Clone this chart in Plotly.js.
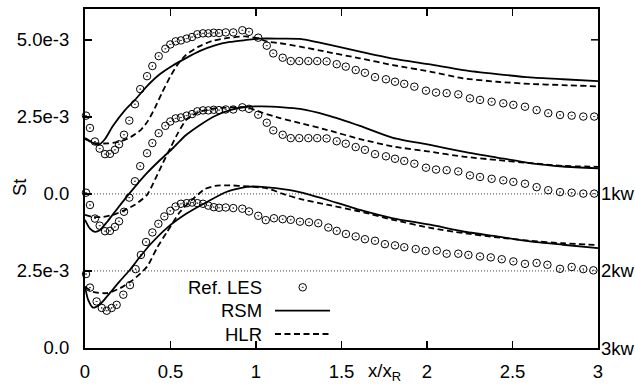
<!DOCTYPE html>
<html>
<head>
<meta charset="utf-8">
<script src="https://cdn.plot.ly/plotly-3.0.1.min.js"></script>
<style>
  html, body { margin: 0; padding: 0; background: #fff; }
  #chart { width: 635px; height: 385px; }
</style>
</head>
<body>
<div id="chart"></div>
<script>
// ---- data (St in units of 1e-3; each profile drawn with a vertical offset) ----
const xTickVals = [0, 0.5, 1, 1.5, 2, 2.5, 3];
const xTickText = ['0', '0.5', '1', '1.5', '2', '2.5', '3'];
const yTickVals = [0, 2.5, 5, 7.5, 10];
const yTickText = ['0.0', '2.5e-3', '0.0', '2.5e-3', '5.0e-3'];
const rightLabelVals = [5, 2.5, 0];
const rightLabelText = ['1kw', '2kw', '3kw'];
const profileOffsets = [5, 2.5, 0];   // top, middle, bottom
const legendNames = ['Ref. LES', 'RSM', 'HLR'];

// Reference LES (top and middle profiles)
const lesX_A = [0.006,0.029,0.058,0.086,0.117,0.146,0.175,0.199,0.228,0.259,0.292,0.323,0.363,0.394,0.431,0.470,0.499,0.530,0.561,0.595,0.626,0.657,0.690,0.721,0.753,0.784,0.823,0.867,0.920,0.959,1.013,1.063,1.101,1.156,1.203,1.253,1.306,1.358,1.413,1.472,1.525,1.583,1.637,1.696,1.760,1.813,1.867,1.926,1.994,2.053,2.115,2.183,2.251,2.310,2.378,2.446,2.505,2.573,2.641,2.709,2.778,2.846,2.914,2.978];
const lesY_A = [2.54,2.14,1.70,1.47,1.29,1.30,1.43,1.61,1.92,2.38,2.91,3.40,3.82,4.15,4.47,4.71,4.85,4.95,4.98,5.04,5.09,5.18,5.21,5.21,5.23,5.22,5.24,5.24,5.31,5.26,5.07,4.81,4.56,4.42,4.31,4.31,4.31,4.31,4.30,4.21,4.13,4.02,3.93,3.79,3.72,3.64,3.57,3.48,3.35,3.29,3.27,3.23,3.10,3.05,2.99,2.94,2.89,2.83,2.72,2.62,2.56,2.54,2.51,2.51];
// Reference LES (bottom profile)
const lesX_B = [0.006,0.029,0.068,0.098,0.127,0.156,0.185,0.224,0.263,0.296,0.327,0.357,0.394,0.429,0.464,0.499,0.530,0.561,0.595,0.626,0.657,0.690,0.721,0.753,0.784,0.823,0.867,0.920,0.959,1.013,1.057,1.105,1.156,1.203,1.257,1.310,1.364,1.423,1.472,1.526,1.583,1.637,1.696,1.754,1.813,1.867,1.934,1.992,2.057,2.115,2.183,2.242,2.310,2.373,2.437,2.505,2.573,2.641,2.704,2.778,2.846,2.914,2.973];
const lesY_B = [2.40,1.96,1.51,1.30,1.21,1.30,1.40,1.73,2.04,2.56,3.02,3.44,3.75,4.03,4.27,4.45,4.59,4.68,4.70,4.72,4.70,4.68,4.62,4.57,4.55,4.56,4.54,4.52,4.43,4.29,4.15,4.21,4.18,4.16,4.10,4.08,4.05,3.91,3.80,3.70,3.62,3.53,3.48,3.37,3.33,3.27,3.21,3.15,3.16,3.06,3.06,3.02,2.97,2.94,2.88,2.81,2.73,2.76,2.70,2.57,2.63,2.56,2.52];

// RSM
const rsmX_top = [0,0.041,0.079,0.117,0.164,0.234,0.292,0.363,0.439,0.509,0.585,0.673,0.760,0.848,0.936,1.023,1.140,1.257,1.413,1.608,1.801,2.018,2.211,2.409,2.602,2.795,3.0];
const rsmY_top = [1.81,1.67,1.59,1.78,2.21,2.72,3.05,3.50,3.89,4.15,4.39,4.64,4.82,4.93,4.99,5.04,5.04,5.03,4.86,4.62,4.39,4.20,4.02,3.89,3.78,3.72,3.66];
const rsmX_mid = [0,0.029,0.058,0.088,0.129,0.175,0.234,0.292,0.363,0.439,0.515,0.591,0.673,0.760,0.848,0.936,1.035,1.158,1.257,1.413,1.608,1.801,2.018,2.211,2.409,2.602,2.795,3.0];
const rsmY_mid = [1.66,1.37,1.27,1.33,1.59,1.92,2.34,2.73,3.18,3.60,3.99,4.41,4.74,5.03,5.22,5.32,5.34,5.31,5.26,5.06,4.71,4.32,4.09,3.87,3.68,3.50,3.39,3.33];
const rsmX_bot = [0,0.018,0.047,0.088,0.146,0.205,0.263,0.322,0.380,0.480,0.596,0.713,0.830,0.947,1.035,1.199,1.316,1.415,1.608,1.801,2.018,2.211,2.409,2.602,2.795,3.0];
const rsmY_bot = [1.99,1.57,1.31,1.42,1.79,2.18,2.54,2.96,3.35,3.90,4.37,4.74,5.07,5.23,5.23,5.12,4.97,4.81,4.48,4.21,4.00,3.78,3.62,3.46,3.35,3.24];

// HLR
const hlrX_top = [0,0.058,0.135,0.205,0.269,0.327,0.368,0.409,0.450,0.497,0.544,0.591,0.661,0.743,0.836,0.936,1.0,1.070,1.140,1.257,1.413,1.608,1.801,2.018,2.211,2.409,2.602,2.795,3.0];
const hlrY_top = [1.78,1.65,1.64,1.70,1.85,2.08,2.37,2.79,3.28,3.79,4.22,4.51,4.77,4.96,5.06,5.11,5.06,4.94,4.89,4.78,4.61,4.40,4.18,3.97,3.75,3.64,3.57,3.53,3.49];
const hlrX_mid = [0,0.047,0.105,0.164,0.222,0.292,0.363,0.409,0.456,0.503,0.544,0.596,0.673,0.770,0.865,0.946,1.023,1.140,1.257,1.413,1.608,1.801,2.018,2.211,2.409,2.602,2.795,3.0];
const hlrY_mid = [1.82,1.75,1.75,1.82,1.95,2.15,2.47,2.96,3.51,4.03,4.48,4.93,5.17,5.28,5.31,5.31,5.16,4.96,4.80,4.58,4.28,4.04,3.87,3.71,3.60,3.50,3.41,3.38];
const hlrX_bot = [0,0.047,0.129,0.205,0.281,0.363,0.421,0.480,0.556,0.632,0.702,0.760,0.830,0.965,1.064,1.158,1.257,1.415,1.608,1.801,2.018,2.211,2.409,2.602,2.795,3.0];
const hlrY_bot = [1.99,1.82,1.78,1.94,2.21,2.64,3.25,3.77,4.42,4.84,5.16,5.26,5.28,5.24,5.18,5.00,4.84,4.65,4.43,4.16,3.90,3.73,3.59,3.48,3.40,3.34];

// ---- layout geometry ----
const W = 635, H = 385;
const M = { l: 85, r: 37, t: 9, b: 37 };
const PW = W - M.l - M.r, PH = H - M.t - M.b;
const px = v => (v - M.l) / PW;          // pixel x -> paper
const py = v => (H - M.b - v) / PH;      // pixel y -> paper

const FONT = 'Liberation Sans, Arial, Helvetica, sans-serif';
const FS = 18.5;

const shift = (arr, off) => arr.map(v => v + off);

const lesStyle = { mode: 'markers', marker: { symbol: 'circle-open-dot', size: 7.5, color: '#000', line: { width: 1, color: '#000' } }, cliponaxis: false, showlegend: false, hoverinfo: 'skip' };
const rsmStyle = { mode: 'lines', line: { color: '#000', width: 1.8, shape: 'spline', smoothing: 0.6 }, showlegend: false, hoverinfo: 'skip' };
const hlrStyle = { mode: 'lines', line: { color: '#000', width: 1.8, dash: '6px,3.5px', shape: 'spline', smoothing: 0.6 }, showlegend: false, hoverinfo: 'skip' };

const traces = [
  Object.assign({ x: rsmX_top, y: shift(rsmY_top, profileOffsets[0]) }, rsmStyle),
  Object.assign({ x: rsmX_mid, y: shift(rsmY_mid, profileOffsets[1]) }, rsmStyle),
  Object.assign({ x: rsmX_bot, y: shift(rsmY_bot, profileOffsets[2]) }, rsmStyle),
  Object.assign({ x: hlrX_top, y: shift(hlrY_top, profileOffsets[0]) }, hlrStyle),
  Object.assign({ x: hlrX_mid, y: shift(hlrY_mid, profileOffsets[1]) }, hlrStyle),
  Object.assign({ x: hlrX_bot, y: shift(hlrY_bot, profileOffsets[2]) }, hlrStyle),
  Object.assign({ x: lesX_A, y: shift(lesY_A, profileOffsets[0]) }, lesStyle),
  Object.assign({ x: lesX_A, y: shift(lesY_A, profileOffsets[1]) }, lesStyle),
  Object.assign({ x: lesX_B, y: shift(lesY_B, profileOffsets[2]) }, lesStyle),
  // legend samples on an overlay axis in paper units
  Object.assign({ x: [px(302.7)], y: [py(287.3)], xaxis: 'x2', yaxis: 'y2' }, lesStyle),
  Object.assign({ x: [px(275), px(330)], y: [py(310.7), py(310.7)], xaxis: 'x2', yaxis: 'y2' }, rsmStyle, { line: { color: '#000', width: 1.8 } }),
  Object.assign({ x: [px(275), px(330)], y: [py(334), py(334)], xaxis: 'x2', yaxis: 'y2' }, hlrStyle, { line: { color: '#000', width: 1.8, dash: '6px,3.5px' } })
];

const annotations = [];
rightLabelVals.forEach((v, i) => annotations.push({
  text: rightLabelText[i], xref: 'paper', yref: 'y', x: 1, y: v, xanchor: 'left', yanchor: 'middle',
  xshift: 1, showarrow: false, font: { family: FONT, size: FS, color: '#000' }
}));
const legendY = [287.3, 310.7, 334];
legendNames.forEach((n, i) => annotations.push({
  text: n, xref: 'paper', yref: 'paper', x: px(264), y: py(legendY[i]), xanchor: 'right', yanchor: 'middle',
  showarrow: false, font: { family: FONT, size: FS, color: '#000' }
}));
annotations.push({ text: 'St', xref: 'paper', yref: 'paper', x: px(19), y: py(188), textangle: -90,
  xanchor: 'center', yanchor: 'middle', showarrow: false, font: { family: FONT, size: FS, color: '#000' } });
annotations.push({ text: 'x/x<sub>R</sub>', xref: 'paper', yref: 'paper', x: px(384), y: py(372),
  xanchor: 'center', yanchor: 'middle', showarrow: false, font: { family: FONT, size: FS, color: '#000' } });

const shapes = [
  { type: 'line', xref: 'x', yref: 'y', x0: 0, x1: 3, y0: rightLabelVals[0], y1: rightLabelVals[0], layer: 'below', line: { color: '#444', width: 1, dash: '1px,2px' } },
  { type: 'line', xref: 'x', yref: 'y', x0: 0, x1: 3, y0: rightLabelVals[1], y1: rightLabelVals[1], layer: 'below', line: { color: '#444', width: 1, dash: '1px,2px' } },
  { type: 'line', xref: 'paper', yref: 'y', x0: 1, x1: 1 - 7 / PW, y0: 10, y1: 10, line: { color: '#000', width: 1.5 } }
];

const layout = {
  width: W, height: H,
  margin: M,
  paper_bgcolor: '#fff', plot_bgcolor: '#fff',
  font: { family: FONT, size: FS, color: '#000' },
  showlegend: false,
  xaxis: {
    range: [0, 3], tickvals: xTickVals, ticktext: xTickText,
    ticks: 'inside', ticklen: 7, tickwidth: 1.5, tickcolor: '#000',
    showline: true, linewidth: 2, linecolor: '#000', mirror: 'ticks',
    showgrid: false, zeroline: false, ticklabelstandoff: 6,
    tickfont: { family: FONT, size: FS, color: '#000' }
  },
  yaxis: {
    range: [0, 11], tickvals: yTickVals, ticktext: yTickText,
    ticks: 'inside', ticklen: 7, tickwidth: 1.5, tickcolor: '#000',
    showline: true, linewidth: 2, linecolor: '#000', mirror: true,
    showgrid: false, zeroline: false, ticklabelstandoff: 10,
    tickfont: { family: FONT, size: FS, color: '#000' }
  },
  xaxis2: { overlaying: 'x', range: [0, 1], visible: false, fixedrange: true },
  yaxis2: { overlaying: 'y', range: [0, 1], visible: false, fixedrange: true },
  annotations: annotations,
  shapes: shapes
};

Plotly.newPlot('chart', traces, layout, { staticPlot: true, displayModeBar: false });
</script>
</body>
</html>
